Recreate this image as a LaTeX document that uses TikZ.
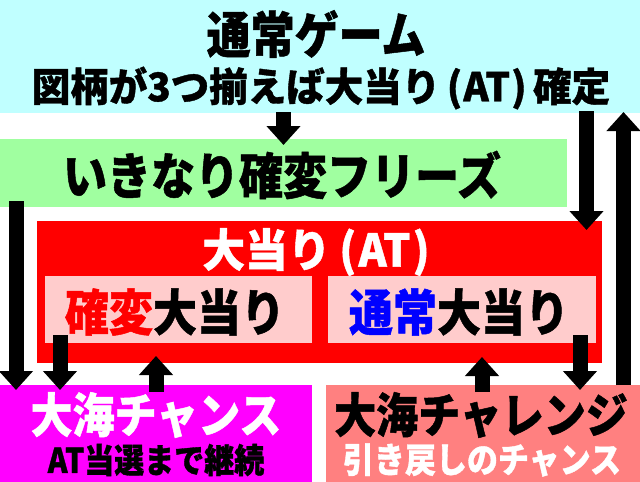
\documentclass[tikz,border=0pt]{standalone}
\usepackage{fontspec}
\setmainfont{Noto Sans CJK JP}[BoldFeatures={FakeBold=1}]
\usetikzlibrary{arrows.meta}
\definecolor{topc}{HTML}{C0FFFF}
\definecolor{greenc}{HTML}{A0FFA0}
\definecolor{redc}{HTML}{FF0000}
\definecolor{pinkc}{HTML}{FFCCCC}
\definecolor{magc}{HTML}{FF00FF}
\definecolor{salc}{HTML}{FF8080}
\definecolor{bluec}{HTML}{0000FF}
\newcommand{\fsz}[1]{\fontsize{#1}{#1}\selectfont}
\newcommand{\tall}[2][1]{\scalebox{#1}[1.13]{#2}}
\begin{document}
\begin{tikzpicture}[x=1pt,y=-1pt,
  box/.style={draw=none,inner sep=0pt,outer sep=0pt,anchor=north west},
  txt/.style={inner sep=0pt,outer sep=0pt},
  bigarrow/.style={line width=15pt,-{Triangle[width=33pt,length=19pt]}}]
\useasboundingbox (0,0) rectangle (640,482);
% boxes
\node[box,fill=topc,minimum width=640pt,minimum height=113pt] (top) at (0,0) {};
\node[box,fill=greenc,minimum width=567pt,minimum height=68pt] (green) at (0,139) {};
\node[box,fill=redc,minimum width=565pt,minimum height=142pt] (red) at (37,221) {};
\node[box,fill=pinkc,minimum width=267pt,minimum height=67pt] (pinkL) at (45,276) {};
\node[box,fill=pinkc,minimum width=268pt,minimum height=67pt] (pinkR) at (328,276) {};
\node[box,fill=magc,minimum width=312pt,minimum height=97pt] (mag) at (0,385) {};
\node[box,fill=salc,minimum width=314pt,minimum height=97pt] (sal) at (326,385) {};
% texts
\node[txt,font=\bfseries\fsz{44}] (t1) at (316,34) {\tall{通常ゲーム}};
\node[txt,font=\bfseries\fsz{35}] (t2) at (321,88) {\tall[1.1]{図柄が3つ揃えば大当り\kern6pt(\kern1pt AT\kern1pt)\kern6pt 確定}};
\node[txt,font=\bfseries\fsz{44}] (t3) at (282,175) {\tall{いきなり確変フリーズ}};
\node[txt,font=\bfseries\fsz{40},text=white] (t4) at (316,252) {\tall[1.07]{大当り\kern8pt(\kern2pt AT\kern2pt)}};
\node[txt,font=\bfseries\fsz{44}] (t5) at (175,312) {\tall{{\color{redc}確変}大当り}};
\node[txt,font=\bfseries\fsz{44}] (t6) at (459,312) {\tall{{\color{bluec}通常}大当り}};
\node[txt,font=\bfseries\fsz{42},text=white] (t7) at (156,415) {\tall{大海チャンス}};
\node[txt,font=\bfseries\fsz{30}] (t8) at (156,460) {\tall{AT当選まで継続}};
\node[txt,font=\bfseries\fsz{42}] (t9) at (481,415) {\tall{大海チャレンジ}};
\node[txt,font=\bfseries\fsz{31},text=white] (t10) at (482,460) {\tall{引き戻しのチャンス}};
% arrows
\draw[bigarrow] ([yshift=1pt]top.south -| 283.5,0) -- ([yshift=-6pt]green.north -| 283.5,0);
\draw[bigarrow] ([yshift=6pt]green.south -| 16,0) -- ([yshift=-5pt]mag.north -| 16,0);
\draw[bigarrow] ([yshift=8pt]pinkL.south -| 60,0) -- ([yshift=-5pt]mag.north -| 60,0);
\draw[bigarrow] ([yshift=-7pt]mag.north -| 156,0) -- ([yshift=7pt]red.south -| 156,0);
\draw[bigarrow] ([yshift=-7pt]sal.north -| 482,0) -- ([yshift=6pt]red.south -| 482,0);
\draw[bigarrow] ([yshift=8pt]pinkR.south -| 580,0) -- ([yshift=-5pt]sal.north -| 580,0);
\draw[bigarrow] ([yshift=2pt]top.south -| 586.5,0) -- ([yshift=-9pt]red.north -| 586.5,0);
\draw[bigarrow] (sal.north -| 623.5,0) -- ([yshift=1pt]top.south -| 623.5,0);
\end{tikzpicture}
\end{document}
